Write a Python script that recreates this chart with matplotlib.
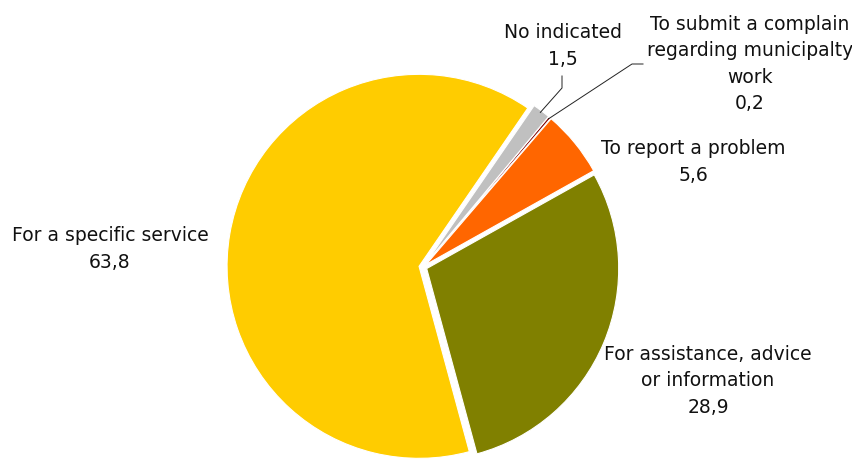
import numpy as np
import matplotlib.pyplot as plt

labels = ["For a specific service", "For assistance, advice\nor information",
          "To report a problem", "To submit a complain\nregarding municipalty\nwork",
          "No indicated"]
values = [63.8, 28.9, 5.6, 0.2, 1.5]
colors = ["#FFCC00", "#808000", "#FF6600", "#800000", "#C0C0C0"]

W, H = 853, 459
fig = plt.figure(figsize=(W / 100, H / 100), dpi=100)
ax = fig.add_axes([0, 0, 1, 1])

cx, cy, R = 423, H - 267, 192
wedges, _ = ax.pie(values, colors=colors, startangle=55.5, counterclock=True,
                   explode=[4] * len(values), radius=R, center=(cx, cy),
                   wedgeprops=dict(edgecolor="white", linewidth=0.8),
                   frame=True)
ax.set_xlim(0, W)
ax.set_ylim(0, H)
ax.set_aspect("equal")
ax.axis("off")

fs = 13.5
lbl = [f"{l}\n{v:.1f}".replace(".", ",") for l, v in zip(labels, values)]
# label centres in pixel coords (from top)
pos = [(110, 249), (708, 381), (693, 162), (750, 64), (563, 46)]
for t, (x, y) in zip(lbl, pos):
    ax.text(x, H - y, t, ha="center", va="center", fontsize=fs,
            linespacing=1.5, color="#111111")


def edge_point(w, frac=1.0):
    ang = np.deg2rad((w.theta1 + w.theta2) / 2)
    x0, y0 = w.center
    return x0 + w.r * frac * np.cos(ang), y0 + w.r * frac * np.sin(ang)


# leader lines for the two thin slices
ex, ey = edge_point(wedges[4], 0.99)
ax.plot([562, 562, ex], [H - 76, H - 88, ey], color="#222222", lw=0.7)
ex, ey = edge_point(wedges[3], 0.99)
ax.plot([643, 632, ex], [H - 64, H - 64, ey], color="#222222", lw=0.7)

fig.savefig("out.png", dpi=100)
